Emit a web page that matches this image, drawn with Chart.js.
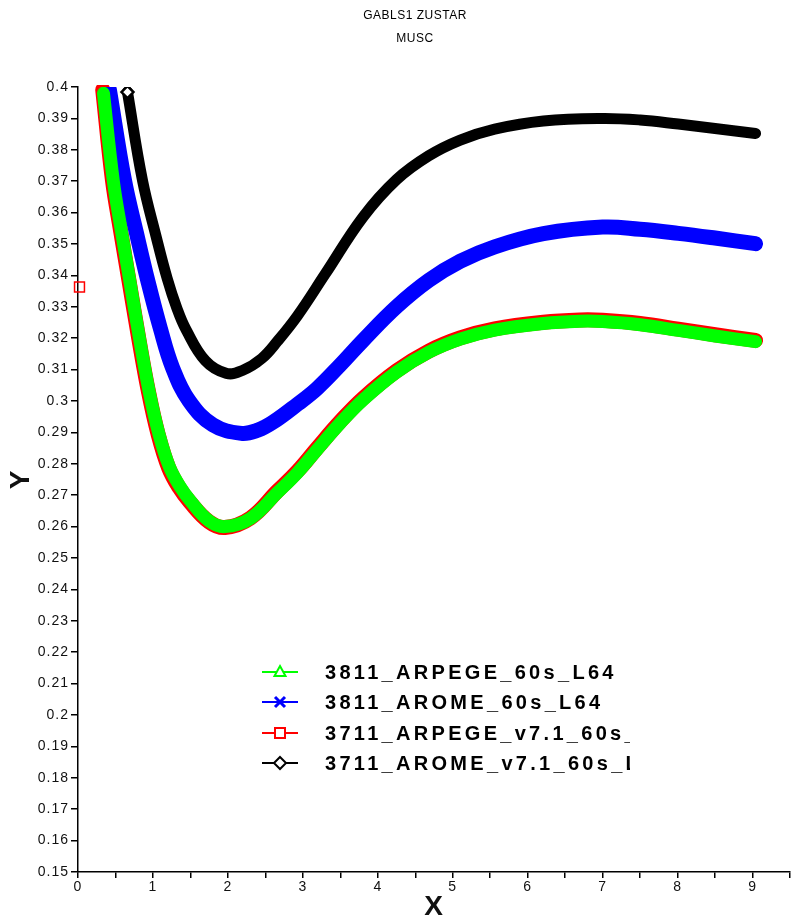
<!DOCTYPE html>
<html><head><meta charset="utf-8">
<script src="https://cdn.jsdelivr.net/npm/chart.js@4"></script>
<style>body{margin:0;background:#fff}canvas{display:block}</style>
</head><body>
<canvas id="c" width="799" height="920"></canvas>
<script>
const titleLines = ["GABLS1 ZUSTAR", "MUSC"];
const seriesNames = ["3811_ARPEGE_60s_L64", "3811_AROME_60s_L64", "3711_ARPEGE_v7.1_60s_L64", "3711_AROME_v7.1_60s_L64"];
const xTitle = "X";
const yTitle = "Y";

const arpege3811X = [0.34, 0.47, 0.58, 0.69, 0.82, 0.95, 1.08, 1.22, 1.36, 1.5, 1.75, 1.96, 2.3, 2.66, 2.93, 3.19, 3.5, 3.8, 4.25, 4.68, 5.1, 5.56, 6.21, 6.7, 7.0, 7.5, 8.01, 8.5, 9.04];
const arpege3811Y = [0.398, 0.3703, 0.354, 0.3384, 0.3200, 0.3030, 0.2895, 0.2790, 0.2728, 0.2682, 0.2618, 0.2600, 0.2626, 0.2708, 0.2772, 0.2845, 0.2930, 0.3003, 0.3092, 0.3155, 0.3197, 0.3226, 0.3247, 0.3254, 0.3253, 0.3243, 0.3225, 0.3207, 0.3189];

const arome3811X = [0.42, 0.62, 0.78, 0.93, 1.1, 1.26, 1.48, 1.8, 2.18, 2.4, 2.6, 2.93, 3.19, 3.5, 3.80, 4.25, 4.68, 5.1, 5.56, 6.21, 7.0, 7.5, 8.01, 8.5, 9.04];
const arome3811Y = [0.399, 0.3703, 0.3535, 0.3384, 0.3230, 0.3107, 0.3001, 0.2924, 0.2897, 0.2907, 0.2932, 0.2990, 0.3040, 0.3115, 0.3192, 0.3300, 0.3384, 0.3445, 0.3491, 0.3533, 0.3554, 0.3547, 0.3534, 0.3519, 0.3501];

const arpege3711X = [0.02, 0.2, 0.33, 0.46, 0.57, 0.68, 0.81, 0.94, 1.07, 1.21, 1.35, 1.49, 1.75, 1.96, 2.3, 2.66, 2.93, 3.19, 3.5, 3.8, 4.25, 4.68, 5.1, 5.56, 6.21, 6.7, 7.0, 7.5, 8.01, 8.5, 9.04];
const arpege3711Y = [0.3363, null, 0.3991, 0.3703, 0.354, 0.3384, 0.3200, 0.3030, 0.2893, 0.2787, 0.2724, 0.2679, 0.2615, 0.2597, 0.2627, 0.2713, 0.2777, 0.2850, 0.2935, 0.3008, 0.3096, 0.3159, 0.3201, 0.3230, 0.3251, 0.3258, 0.3257, 0.3247, 0.3229, 0.3211, 0.3193];

const arome3711X = [0.66, 0.86, 1.04, 1.19, 1.32, 1.44, 1.70, 1.98, 2.2, 2.45, 2.66, 2.93, 3.3, 3.8, 4.25, 4.68, 5.1, 5.56, 6.21, 7.0, 7.5, 8.01, 8.5, 9.04];
const arome3711Y = [0.3984, 0.3703, 0.3526, 0.3390, 0.3295, 0.3228, 0.3128, 0.3088, 0.3098, 0.3135, 0.3190, 0.3272, 0.3405, 0.3585, 0.3705, 0.3781, 0.3831, 0.3866, 0.3892, 0.3900, 0.3895, 0.3882, 0.3868, 0.3852];

const yTicksMin = 0.15, yTicksMax = 0.4, yTickStep = 0.01;
const xTicksMin = 0, xTicksMax = 9.5, xTickStep = 0.5;

function zip(xs, ys) { return xs.map((x, i) => ({x: x, y: ys[i]})); }

const markerKinds = ['triangle', 'cross', 'rect', 'diamond'];
const colors = ['#00ff00', '#0000ff', '#ff0000', '#000000'];

function drawMarker(ctx, kind, x, y, color) {
  ctx.save();
  ctx.strokeStyle = color; ctx.fillStyle = '#fff'; ctx.lineWidth = 2;
  ctx.beginPath();
  if (kind === 'triangle') {
    ctx.moveTo(x, y - 6); ctx.lineTo(x + 5.5, y + 4); ctx.lineTo(x - 5.5, y + 4); ctx.closePath();
    ctx.fill(); ctx.stroke();
  } else if (kind === 'cross') {
    ctx.lineWidth = 3;
    ctx.moveTo(x - 5, y - 5); ctx.lineTo(x + 5, y + 5);
    ctx.moveTo(x + 5, y - 5); ctx.lineTo(x - 5, y + 5);
    ctx.stroke();
  } else if (kind === 'rect') {
    ctx.rect(x - 5, y - 5, 10, 10); ctx.fill(); ctx.stroke();
  } else {
    ctx.moveTo(x, y - 6); ctx.lineTo(x + 6, y); ctx.lineTo(x, y + 6); ctx.lineTo(x - 6, y); ctx.closePath();
    ctx.fill(); ctx.stroke();
  }
  ctx.restore();
}

const spacingPlugin = {
  id: 'spacing',
  beforeUpdate(chart) { chart.ctx.letterSpacing = '1px'; },
  beforeDraw(chart) { chart.ctx.letterSpacing = '1px'; }
};

const titlePlugin = {
  id: 'titleText',
  afterDraw(chart) {
    const ctx = chart.ctx;
    ctx.save();
    ctx.letterSpacing = '0.5px';
    ctx.fillStyle = '#000';
    ctx.font = '12px "Liberation Sans", Arial, sans-serif';
    ctx.textAlign = 'center'; ctx.textBaseline = 'middle';
    ctx.fillText(titleLines[0], 415, 16);
    ctx.fillText(titleLines[1], 415, 39);
    ctx.restore();
  }
};

const legendPlugin = {
  id: 'customLegend',
  afterDraw(chart) {
    const ctx = chart.ctx;
    const rows = [672, 702, 733, 763];
    ctx.save();
    ctx.beginPath(); ctx.rect(0, 0, 630, 920); ctx.clip();
    chart.data.datasets.forEach((ds, i) => {
      const y = rows[i];
      ctx.strokeStyle = ds.borderColor; ctx.lineWidth = 2;
      ctx.beginPath(); ctx.moveTo(262, y); ctx.lineTo(298, y); ctx.stroke();
      drawMarker(ctx, markerKinds[i], 280, y, ds.borderColor);
      ctx.fillStyle = '#000';
      ctx.font = 'bold 20px "Liberation Sans", Arial, sans-serif';
      ctx.letterSpacing = '3.3px';
      ctx.textBaseline = 'middle'; ctx.textAlign = 'left';
      ctx.fillText(ds.label, 325, y + 1);
    });
    ctx.restore();
  }
};

const firstPointRadius = (idxs, r) => (c) => idxs.includes(c.dataIndex) ? r : 0;

new Chart(document.getElementById('c'), {
  type: 'line',
  data: {
    datasets: [
      { label: seriesNames[0], data: zip(arpege3811X, arpege3811Y), borderColor: colors[0], backgroundColor: colors[0],
        borderWidth: 13, pointRadius: 0, tension: 0.4, borderCapStyle: 'round', borderJoinStyle: 'round' },
      { label: seriesNames[1], data: zip(arome3811X, arome3811Y), borderColor: colors[1], backgroundColor: colors[1],
        borderWidth: 15, pointStyle: 'crossRot', pointRadius: firstPointRadius([0], 6), pointBorderWidth: 3, pointBorderColor: colors[1],
        tension: 0.4, borderCapStyle: 'round', borderJoinStyle: 'round' },
      { label: seriesNames[2], data: zip(arpege3711X, arpege3711Y), borderColor: colors[2], backgroundColor: colors[2],
        borderWidth: 15, pointStyle: 'rect', pointRadius: firstPointRadius([0, 2], 7), pointBorderWidth: 1.5, pointBorderColor: colors[2],
        pointBackgroundColor: 'rgba(255,255,255,0)', spanGaps: false, clip: { left: 12, top: 2, right: 0, bottom: 0 },
        tension: 0.4, borderCapStyle: 'round', borderJoinStyle: 'round' },
      { label: seriesNames[3], data: zip(arome3711X, arome3711Y), borderColor: colors[3], backgroundColor: colors[3],
        borderWidth: 11, pointStyle: 'rectRot', pointRadius: firstPointRadius([0], 6), pointBorderWidth: 2.5, pointBorderColor: colors[3],
        pointBackgroundColor: '#fff',
        tension: 0.4, borderCapStyle: 'round', borderJoinStyle: 'round' }
    ]
  },
  options: {
    responsive: false,
    animation: false,
    events: [],
    layout: { padding: { top: 87, right: 0, bottom: 0, left: 0 } },
    plugins: { legend: { display: false }, title: { display: false }, tooltip: { enabled: false } },
    scales: {
      x: {
        type: 'linear', min: xTicksMin, max: xTicksMax,
        afterFit: (s) => { s.height = 48; },
        ticks: { stepSize: xTickStep, autoSkip: false, maxRotation: 0, padding: 1, color: '#111',
          font: { family: '"Liberation Sans", Arial, sans-serif', size: 14 },
          callback: (v) => Math.abs(v - Math.round(v)) < 1e-6 ? String(Math.round(v)) : '' },
        grid: { drawOnChartArea: false, drawTicks: true, tickLength: 6, color: '#000', lineWidth: 1.5 },
        border: { display: true, color: '#000', width: 1.5 },
        title: { display: true, text: xTitle, color: '#111', padding: { top: 0, bottom: 0 },
          font: { family: '"Liberation Sans", Arial, sans-serif', size: 28, weight: 'bold', lineHeight: 0.9 } }
      },
      y: {
        type: 'linear', min: yTicksMin, max: yTicksMax,
        afterFit: (s) => { s.width = 78; },
        ticks: { stepSize: yTickStep, autoSkip: false, padding: 2, color: '#111',
          font: { family: '"Liberation Sans", Arial, sans-serif', size: 14 },
          callback: (v) => String(parseFloat(Number(v).toFixed(2))) },
        grid: { drawOnChartArea: false, drawTicks: true, tickLength: 7, color: '#000', lineWidth: 1.5 },
        border: { display: true, color: '#000', width: 1.5 },
        title: { display: true, text: yTitle, color: '#111', padding: { top: 7, bottom: 0 },
          font: { family: '"Liberation Sans", Arial, sans-serif', size: 28, weight: 'bold', lineHeight: 1 } }
      }
    }
  },
  plugins: [spacingPlugin, titlePlugin, legendPlugin]
});
</script>
</body></html>
